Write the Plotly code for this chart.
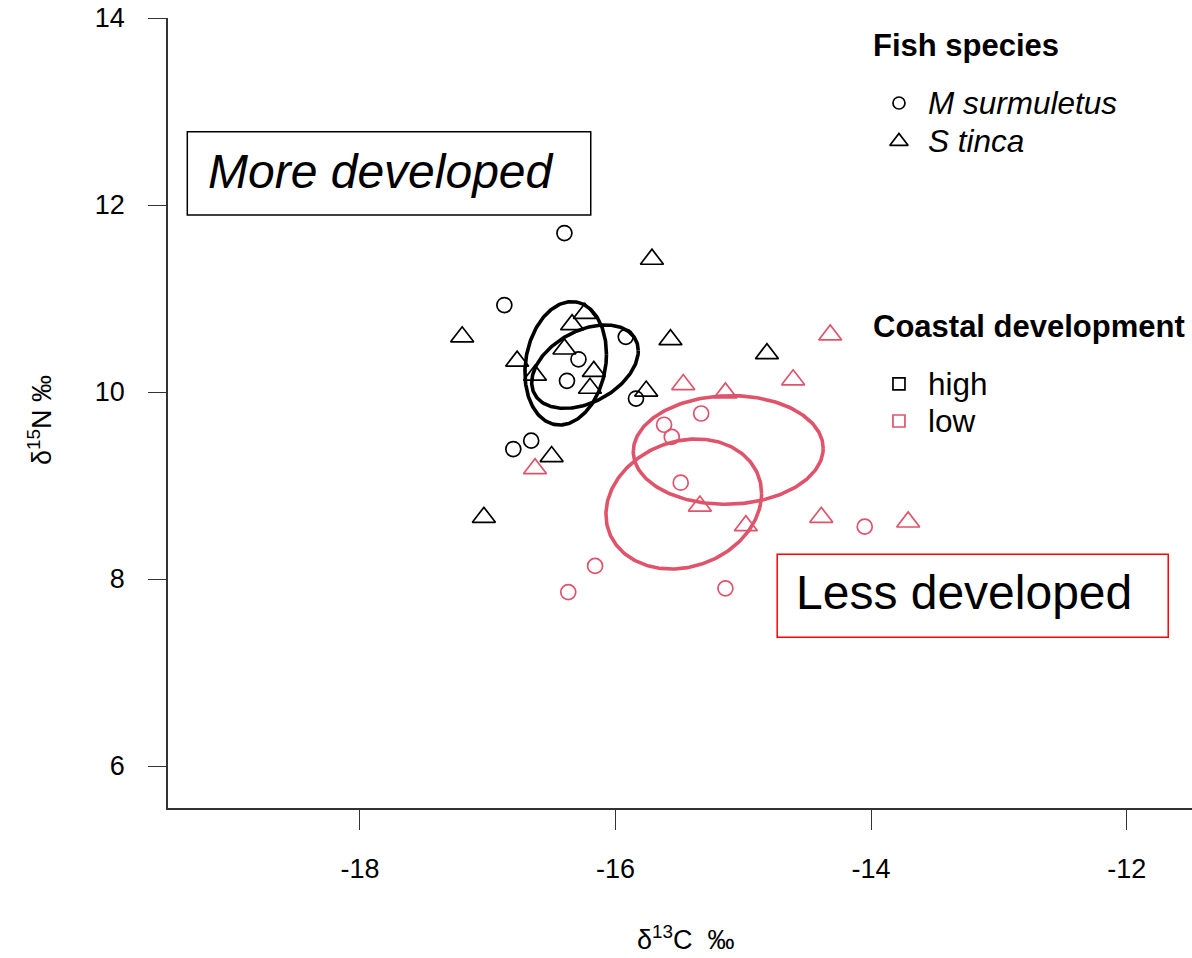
import numpy as np
import plotly.graph_objects as go

# ---------------- data ----------------
high_circ_x = [-16.40, -16.87, -15.92, -16.29, -16.38, -15.84, -16.66, -16.80]
high_circ_y = [11.70, 10.93, 10.59, 10.35, 10.12, 9.93, 9.48, 9.39]

high_tri_x = [-15.715, -17.20, -16.24, -16.34, -15.57, -16.40, -16.77, -16.63, -16.17, -16.20, -15.76, -16.50, -17.03, -14.815]
high_tri_y = [11.42, 10.59, 10.84, 10.72, 10.56, 10.46, 10.33, 10.18, 10.22, 10.04, 10.01, 9.31, 8.66, 10.41]

low_circ_x = [-15.33, -15.62, -15.56, -15.49, -16.16, -16.37, -15.14, -14.05]
low_circ_y = [9.77, 9.65, 9.52, 9.03, 8.14, 7.86, 7.90, 8.56]

low_tri_x = [-16.63, -15.47, -15.14, -14.61, -15.34, -14.98, -14.39, -14.32, -13.71]
low_tri_y = [9.18, 10.08, 9.99, 10.13, 8.78, 8.57, 8.66, 10.61, 8.61]

# standard ellipses: centre, half-extent in x and y, correlation
ell_cx = [-16.390, -16.239, -15.118, -15.466]
ell_cy = [10.307, 10.271, 9.380, 8.802]
ell_hx = [0.319, 0.417, 0.743, 0.609]
ell_hy = [0.660, 0.446, 0.581, 0.695]
ell_rho = [0.15, 0.38, 0.03, 0.16]
ell_group = ["high", "high", "low", "low"]

x_ticks = [-18, -16, -14, -12]
y_ticks = [6, 8, 10, 12, 14]

species_labels = ["M surmuletus", "S tinca"]
development_labels = ["high", "low"]

# ---------------- style ----------------
BLACK = "#000000"
RED = "#DF536B"
FONT = "Liberation Sans, Arial, sans-serif"
group_color = {"high": BLACK, "low": RED}

fig = go.Figure()

t = np.linspace(0, 2 * np.pi, 240)
for cx, cy, hx, hy, r, g in zip(ell_cx, ell_cy, ell_hx, ell_hy, ell_rho, ell_group):
    ex = cx + hx * np.cos(t)
    ey = cy + hy * (r * np.cos(t) + np.sqrt(1 - r * r) * np.sin(t))
    fig.add_trace(go.Scatter(x=ex, y=ey, mode="lines",
                             line=dict(color=group_color[g], width=3.6),
                             showlegend=False, hoverinfo="skip"))

def pts(x, y, sym, color, size):
    fig.add_trace(go.Scatter(x=x, y=y, mode="markers",
                             marker=dict(symbol=sym, size=size, color=color,
                                         line=dict(color=color, width=1.7)),
                             showlegend=False))

pts(high_circ_x, high_circ_y, "circle-open", BLACK, 15)
pts(high_tri_x, high_tri_y, "triangle-up-open", BLACK, 20)
pts(low_circ_x, low_circ_y, "circle-open", RED, 15)
pts(low_tri_x, low_tri_y, "triangle-up-open", RED, 20)

# legend symbols (drawn in data space)
leg_x = -13.782
pts([leg_x], [13.091], "circle-open", BLACK, 12)
pts([leg_x], [12.68], "triangle-up-open", BLACK, 16)
pts([leg_x], [10.086], "square-open", BLACK, 12)
pts([leg_x], [9.690], "square-open", RED, 12)

# text boxes
fig.add_shape(type="rect", x0=-19.351, x1=-16.194, y0=11.893, y1=12.784,
              line=dict(color=BLACK, width=1.5), layer="above")
fig.add_shape(type="rect", x0=-14.735, x1=-11.675, y0=7.376, y1=8.264,
              line=dict(color="#FF0000", width=1.5), layer="above")

ann = []
ann.append(dict(x=-19.205, y=12.36, xref="x", yref="y", text="<i>More developed</i>",
                showarrow=False, xanchor="left", yanchor="middle",
                font=dict(family=FONT, size=48, color=BLACK)))
ann.append(dict(x=-14.60, y=7.86, xref="x", yref="y", text="Less developed",
                showarrow=False, xanchor="left", yanchor="middle",
                font=dict(family=FONT, size=48, color=BLACK)))

def ptxt(px, py, text, size, **kw):
    ann.append(dict(x=(px - 168) / 1024, y=(808 - py) / 790, xref="paper", yref="paper",
                    text=text, showarrow=False, xanchor=kw.get("xanchor", "left"),
                    yanchor="middle", textangle=kw.get("angle", 0),
                    font=dict(family=FONT, size=size, color=BLACK)))

ptxt(871, 46, "<b>Fish species</b>", 31)
ptxt(926, 103, "<i>" + species_labels[0] + "</i>", 31.5)
ptxt(926, 141, "<i>" + species_labels[1] + "</i>", 31.5)
ptxt(871, 326, "<b>Coastal development</b>", 31)
ptxt(926, 384, development_labels[0], 31.5)
ptxt(926, 421, development_labels[1], 31.5)

ptxt(686, 938, "δ<sup>13</sup>C  ‰", 27, xanchor="center")
ptxt(40, 420, "δ<sup>15</sup>N ‰", 27, xanchor="center", angle=-90)

fig.update_layout(
    width=1192, height=958,
    margin=dict(l=168, r=0, t=18, b=150, pad=0),
    paper_bgcolor="white", plot_bgcolor="white",
    showlegend=False,
    annotations=ann,
    xaxis=dict(range=[-19.502, -11.489], tickvals=x_ticks, ticktext=[str(v) for v in x_ticks],
               showgrid=False, zeroline=False, showline=True, linecolor="#333333", linewidth=1.6,
               ticks="outside", ticklen=20, tickwidth=1.3, tickcolor="#333333",
               tickfont=dict(family=FONT, size=27, color=BLACK), ticklabelstandoff=16),
    yaxis=dict(range=[5.551, 14.0], tickvals=y_ticks, ticktext=[str(v) for v in y_ticks],
               showgrid=False, zeroline=False, showline=True, linecolor="#333333", linewidth=1.6,
               ticks="outside", ticklen=18, tickwidth=1.3, tickcolor="#333333",
               tickfont=dict(family=FONT, size=27, color=BLACK), ticklabelstandoff=18),
)

fig.write_html("out.html")
